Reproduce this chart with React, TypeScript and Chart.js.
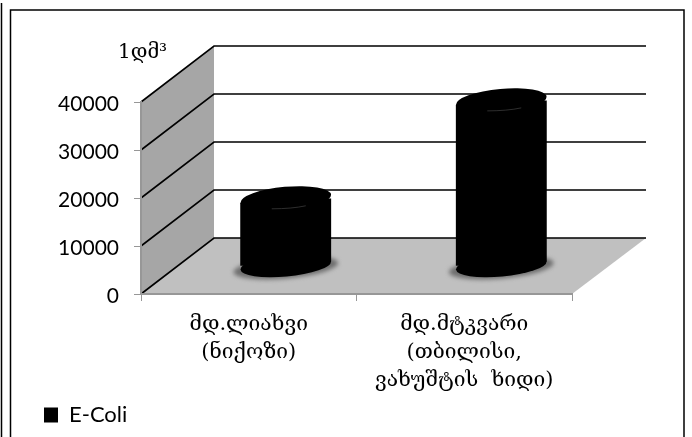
import React, { useEffect, useRef } from "react";
import { Chart, registerables } from "chart.js";

Chart.register(...registerables);

const categories = [
  ["მდ.ლიახვი", "(ნიქოზი)"],
  ["მდ.მტკვარი", "(თბილისი,", "ვახუშტის  ხიდი)"],
];
const seriesName = "E-Coli";
const ecoli = [14000, 34400];
const unitLabel = "1დმ³";
const yMax = 40000;
const yStep = 10000;

const DX = 73;
const DY = -56;
const SHIFT_X = 37;
const SHIFT_Y = -28;
const TILT = -0.09;

const NUM_FONT = "Lato, 'Open Sans', sans-serif";
const GEO_FONT = "'DejaVu Serif', 'DejaVu Sans', serif";

const scenePlugin = {
  id: "scene",
  beforeDraw(chart: any) {
    const { ctx, scales } = chart;
    const y = scales.y;
    const x = scales.x;
    const l = x.left;
    const r = x.right;
    const y0 = y.getPixelForValue(0);
    const yT = y.getPixelForValue(yMax);

    // nudge value labels so the digits centre on their ticks
    y.getLabelItems(chart.chartArea).forEach((item: any) => {
      item.options.translation[1] += 2;
    });

    ctx.save();
    ctx.fillStyle = "#fff";
    ctx.fillRect(0, 0, chart.width, chart.height);

    // page frame
    ctx.strokeStyle = "#000";
    ctx.lineWidth = 1.5;
    ctx.beginPath();
    ctx.moveTo(1.5, 3);
    ctx.lineTo(1.5, chart.height);
    ctx.moveTo(10.5, chart.height);
    ctx.lineTo(10.5, 10);
    ctx.lineTo(684, 10);
    ctx.lineTo(684, chart.height);
    ctx.stroke();

    // side wall
    ctx.fillStyle = "#a6a6a6";
    ctx.beginPath();
    ctx.moveTo(l, y0);
    ctx.lineTo(l + DX, y0 + DY);
    ctx.lineTo(l + DX, yT + DY);
    ctx.lineTo(l, yT);
    ctx.closePath();
    ctx.fill();

    // floor
    ctx.fillStyle = "#c0c0c0";
    ctx.beginPath();
    ctx.moveTo(l, y0);
    ctx.lineTo(l + DX, y0 + DY);
    ctx.lineTo(r + DX + 1, y0 + DY);
    ctx.lineTo(r, y0);
    ctx.closePath();
    ctx.fill();

    // 3D gridlines
    ctx.strokeStyle = "#000";
    ctx.lineWidth = 1.6;
    for (let v = 0; v <= yMax; v += yStep) {
      const p = y.getPixelForValue(v);
      ctx.beginPath();
      ctx.moveTo(l, p);
      ctx.lineTo(l + DX, p + DY);
      ctx.lineTo(r + DX + 1, p + DY);
      ctx.stroke();
    }

    // unit label
    ctx.fillStyle = "#000";
    ctx.font = "20px " + GEO_FONT;
    ctx.textAlign = "left";
    ctx.textBaseline = "middle";
    ctx.fillText(unitLabel, 118, 53);
    ctx.restore();
  },
  beforeDatasetDraw(chart: any, args: any) {
    const { ctx } = chart;
    const meta = args.meta;
    ctx.save();
    ctx.translate(SHIFT_X, SHIFT_Y);
    // shadows and base ellipses on the floor
    meta.data.forEach((bar: any) => {
      const w = bar.width;
      ctx.save();
      ctx.fillStyle = "#6e6e6e";
      ctx.filter = "blur(2px)";
      ctx.beginPath();
      ctx.ellipse(bar.x, bar.base + 2, w / 2 + 7, 11, TILT, 0, Math.PI * 2);
      ctx.fill();
      ctx.restore();
      ctx.fillStyle = "#000";
      ctx.beginPath();
      ctx.ellipse(bar.x, bar.base, w / 2, 11, TILT, 0, Math.PI * 2);
      ctx.fill();
    });
    // cylinder body: the bar, sheared to meet the tilted ellipses
    ctx.save();
    ctx.beginPath();
    meta.data.forEach((bar: any) => {
      const w = bar.width / 2;
      const d = w * Math.sin(-TILT);
      ctx.moveTo(bar.x - w, bar.y + d);
      ctx.lineTo(bar.x + w, bar.y - d);
      ctx.lineTo(bar.x + w, bar.base - d);
      ctx.lineTo(bar.x - w, bar.base + d);
      ctx.closePath();
    });
    ctx.clip();
  },
  afterDatasetDraw(chart: any, args: any) {
    const { ctx } = chart;
    ctx.restore();
    args.meta.data.forEach((bar: any) => {
      const w = bar.width;
      ctx.fillStyle = "#000";
      ctx.beginPath();
      ctx.ellipse(bar.x, bar.y, w / 2, 12, TILT, 0, Math.PI * 2);
      ctx.fill();
      ctx.strokeStyle = "#3a3a3a";
      ctx.lineWidth = 0.8;
      ctx.beginPath();
      ctx.moveTo(bar.x - 14, bar.y + 10);
      ctx.quadraticCurveTo(bar.x + 6, bar.y + 10, bar.x + 20, bar.y + 7);
      ctx.stroke();
    });
    ctx.restore();
  },
  afterLayout(chart: any) {
    const lg = chart.legend;
    lg.left = 44;
    lg.top = 404;
    lg.right = 200;
    lg.bottom = 432;
    lg.width = 156;
    lg.height = 28;
  },
};

export default function App() {
  const ref = useRef<HTMLCanvasElement | null>(null);
  useEffect(() => {
    document.body.style.margin = "0";
    const chart = new Chart(ref.current as HTMLCanvasElement, {
      type: "bar",
      data: {
        labels: categories as any,
        datasets: [
          {
            label: seriesName,
            data: ecoli,
            backgroundColor: "#000",
            borderWidth: 0,
            barThickness: 91,
            clip: false as any,
          },
        ],
      },
      options: {
        animation: false,
        responsive: false,
        layout: { padding: { left: 0, top: 102, right: 120, bottom: 0 } },
        plugins: {
          tooltip: { enabled: false },
          legend: {
            display: true,
            position: "chartArea" as any,
            align: "start",
            labels: {
              boxWidth: 14,
              boxHeight: 15,
              padding: 0,
              color: "#000",
              font: { family: NUM_FONT, size: 22 },
            },
          },
        },
        scales: {
          x: {
            afterFit(s: any) {
              s.height = 143;
            },
            border: { color: "#979797", width: 2 },
            grid: { drawOnChartArea: false, drawTicks: true, tickLength: 7, color: "#979797", offset: true },
            ticks: {
              color: "#000",
              maxRotation: 0,
              autoSkip: false,
              padding: 10,
              font: { family: GEO_FONT, size: 21, lineHeight: 1.32 },
            },
          },
          y: {
            min: 0,
            max: yMax,
            afterFit(s: any) {
              s.width = 141;
            },
            border: { color: "#979797", width: 2 },
            grid: { drawOnChartArea: false, drawTicks: true, tickLength: 7, color: "#979797" },
            ticks: {
              stepSize: yStep,
              color: "#000",
              padding: 15,
              callback: (v: any) => String(v),
              font: { family: NUM_FONT, size: 21 },
            },
          },
        },
      },
      plugins: [scenePlugin],
    } as any);
    return () => chart.destroy();
  }, []);
  return (
    <div style={{ width: 692, height: 437 }}>
      <canvas ref={ref} width={692} height={437} style={{ display: "block" }} />
    </div>
  );
}
